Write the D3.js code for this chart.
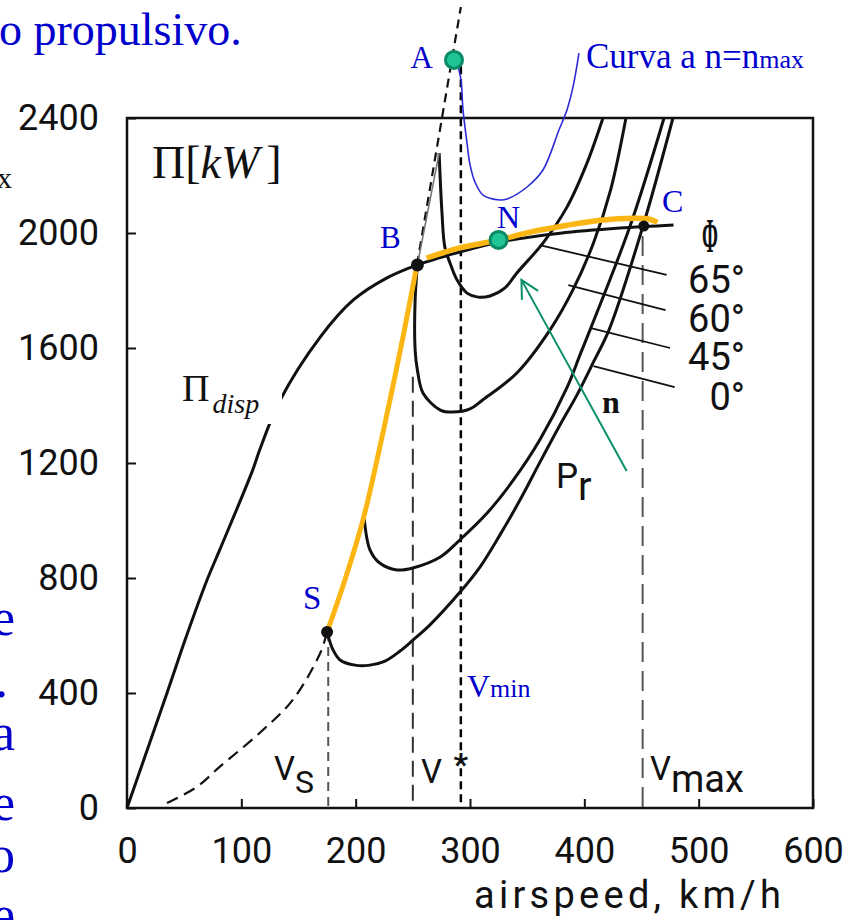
<!DOCTYPE html>
<html>
<head>
<meta charset="utf-8">
<script src="https://cdn.jsdelivr.net/npm/d3@7"></script>
<style>
  body { margin: 0; background: #fff; }
  svg { display: block; }
</style>
</head>
<body>
<div id="chart"></div>
<script>
// Axis ticks
var xTicks = [0, 100, 200, 300, 400, 500, 600];
var yTicks = [0, 400, 800, 1200, 1600, 2000, 2400];

// Available power curve (Pi_disp), km/h vs kW
var dispV = [0, 35, 52, 70, 81, 110, 116, 134, 169, 198, 227, 254, 291, 326, 379, 431, 478];
var dispP = [0, 400, 598, 793, 897, 1176, 1245, 1419, 1638, 1767, 1843, 1889, 1934, 1969, 1999, 2017, 2028];

// Required power curves for bank angle 0, 45, 60, 65 deg
var bankLabels = ['65°', '60°', '45°', '0°'];
var pr0V = [175, 180.2, 186.3, 199.4, 212.5, 225.7, 238.8, 250.1, 265, 291.3, 308.7, 326.2, 343.7, 361.2, 378.7, 393.6, 407.6, 421.6, 451.3, 477.5];
var pr0P = [612, 550, 515, 497, 497, 511, 546, 584, 637, 751, 838, 950, 1071, 1203, 1332, 1437, 1548, 1663, 2024, 2400];
var pr45V = [207.5, 212.6, 221, 236, 250, 274, 291, 315, 338, 361, 385, 396.2, 405, 440, 469.7];
var pr45P = [1005, 897, 852, 828, 835, 873, 932, 1026, 1141, 1280, 1464, 1576, 1663, 2024, 2400];
var pr60V = [254, 252, 252, 254, 259, 274, 285, 300, 311, 341, 370, 390, 408, 423, 436.4];
var pr60P = [1889, 1767, 1593, 1523, 1443, 1384, 1377, 1388, 1419, 1513, 1663, 1802, 1965, 2150, 2400];
var pr65V = [254, 273, 275.5, 278, 282.5, 288.6, 297.4, 307, 317.5, 330.6, 341, 363.8, 384.8, 402.3, 416.3];
var pr65P = [1889, 2278, 2070, 1951, 1896, 1837, 1791, 1777, 1781, 1809, 1861, 1965, 2090, 2243, 2400];

// Stall limit line (origin -> S -> B -> up)
var stallV = [35, 61, 81, 116, 145, 169, 175, 190.6, 206.4, 217.7, 230, 241.4, 253.6, 292];
var stallP = [17, 73, 143, 261, 376, 539, 612, 793, 1002, 1193, 1419, 1638, 1889, 2786];

// Maximum power branch B -> C
var maxV = [262, 291, 324.5, 352.5, 385, 414, 442.6, 457, 464];
var maxP = [1913, 1948, 1975, 2003, 2027, 2044, 2051, 2048, 2037];

// Characteristic speeds: VS, V*, Vmin, Vmax
var speedValues = [176, 250, 292, 451];
var speedTops = [612, 1500, 2580, 1990];

// Named points
var pointNames = ['A', 'B', 'C', 'N', 'S'];
var pointV = [286, 254, 452, 325, 175];
var pointP = [2602, 1889, 2024, 1976, 612];

// Leader lines from the curves to the bank angle labels
var leaderV0 = [361, 386, 405, 408];
var leaderP0 = [1958, 1819, 1670, 1537];
var leaderV1 = [472, 471, 475, 479];
var leaderP1 = [1854, 1732, 1600, 1464];

// Callout "Curva a n=nmax"
var calloutV = [288.6, 292.1, 293.9, 297.4, 300, 304.4, 311.4, 326.2, 332.3, 349.9, 363.8, 377.8, 384.8, 390.1, 395.3];
var calloutP = [2595, 2532, 2428, 2313, 2238, 2177, 2132, 2115, 2118, 2160, 2219, 2358, 2428, 2508, 2626];

// Arrow "n"
var arrowV = [437, 345];
var arrowP = [1172, 1837];

// Create SVG Element
var width = 852;
var height = 923;
var svg = d3.select('#chart')
    .append('svg')
    .attr('width', width)
    .attr('height', height);

// Create Scale
var x = d3.scaleLinear().domain([0, 600]).range([127, 813]);
var y = d3.scaleLinear().domain([0, 2400]).range([808, 118]);

function pairs(vs, ps) {
  return vs.map(function(v, i) { return [v, ps[i]]; });
}

var smooth = d3.line()
    .x(function(d) { return x(d[0]); })
    .y(function(d) { return y(d[1]); })
    .curve(d3.curveCatmullRom.alpha(0.5));

var straight = d3.line()
    .x(function(d) { return x(d[0]); })
    .y(function(d) { return y(d[1]); });

var ink = '#111';
var blue = '#0000cc';
var scanFont = 'Roboto, sans-serif';
var serif = '"Liberation Serif", "Times New Roman", serif';

// Frame and axes
svg.append('rect')
    .attr('x', x(0))
    .attr('y', y(2400))
    .attr('width', x(600) - x(0))
    .attr('height', y(0) - y(2400))
    .attr('fill', 'none')
    .attr('stroke', ink)
    .attr('stroke-width', 2.5);

var yAxis = d3.axisLeft(y)
    .tickValues(yTicks)
    .tickFormat(d3.format('d'))
    .tickSizeInner(-9)
    .tickSizeOuter(0)
    .tickPadding(28);

var xAxis = d3.axisBottom(x)
    .tickValues(xTicks)
    .tickFormat(d3.format('d'))
    .tickSizeInner(-9)
    .tickSizeOuter(0)
    .tickPadding(29);

var gy = svg.append('g')
    .attr('transform', 'translate(' + x(0) + ',0)')
    .call(yAxis);
var gx = svg.append('g')
    .attr('transform', 'translate(0,' + y(0) + ')')
    .call(xAxis);

[gx, gy].forEach(function(g) {
  g.select('.domain').remove();
  g.selectAll('line').attr('stroke', ink).attr('stroke-width', 2);
  g.selectAll('text')
      .attr('fill', ink)
      .style('font-family', scanFont)
      .style('font-size', '36px');
});

svg.append('text')
    .text('airspeed, km/h')
    .attr('x', 474)
    .attr('y', 908)
    .attr('textLength', 307)
    .attr('lengthAdjust', 'spacing')
    .attr('fill', ink)
    .style('font-family', scanFont)
    .style('font-size', '38px');

// Vertical guide lines
var guideDash = ['9,6', '16,8', '8,5', '20,9'];
var guideColor = ['#555', '#333', '#000', '#555'];
var guideWidth = [2, 2, 2.5, 2];
svg.selectAll('.guide')
    .data(speedValues)
    .enter()
    .append('line')
    .attr('class', 'guide')
    .attr('x1', function(d) { return x(d); })
    .attr('x2', function(d) { return x(d); })
    .attr('y1', function(d, i) { return y(speedTops[i]); })
    .attr('y2', y(0))
    .attr('stroke', function(d, i) { return guideColor[i]; })
    .attr('stroke-width', function(d, i) { return guideWidth[i]; })
    .attr('stroke-dasharray', function(d, i) { return guideDash[i]; });

// Stall line
var stall = pairs(stallV, stallP);
svg.append('path')
    .attr('d', smooth(stall.slice(0, 7)))
    .attr('fill', 'none')
    .attr('stroke', ink)
    .attr('stroke-width', 2.2)
    .attr('stroke-dasharray', '12,7');
svg.append('path')
    .attr('d', straight(stall.slice(12)))
    .attr('fill', 'none')
    .attr('stroke', ink)
    .attr('stroke-width', 2.2)
    .attr('stroke-dasharray', '9,6');
svg.append('path')
    .attr('d', smooth(stall.slice(6, 13)))
    .attr('fill', 'none')
    .attr('stroke', ink)
    .attr('stroke-width', 3);

// Available power
svg.append('path')
    .attr('d', smooth(pairs(dispV, dispP)))
    .attr('fill', 'none')
    .attr('stroke', ink)
    .attr('stroke-width', 3);

// Required power curves
var pr65 = pairs(pr65V, pr65P);
var curves = [pairs(pr0V, pr0P), pairs(pr45V, pr45P), pairs(pr60V, pr60P), pr65.slice(1)];
svg.selectAll('.pr')
    .data(curves)
    .enter()
    .append('path')
    .attr('class', 'pr')
    .attr('d', function(d) { return smooth(d); })
    .attr('fill', 'none')
    .attr('stroke', ink)
    .attr('stroke-width', 3);
svg.append('path')
    .attr('d', straight(pr65.slice(0, 2)))
    .attr('fill', 'none')
    .attr('stroke', '#777')
    .attr('stroke-width', 1.6);

// Leader lines to the bank angle labels
svg.selectAll('.leader')
    .data(leaderV0)
    .enter()
    .append('line')
    .attr('class', 'leader')
    .attr('x1', function(d) { return x(d); })
    .attr('y1', function(d, i) { return y(leaderP0[i]); })
    .attr('x2', function(d, i) { return x(leaderV1[i]); })
    .attr('y2', function(d, i) { return y(leaderP1[i]); })
    .attr('stroke', ink)
    .attr('stroke-width', 1.8);

svg.selectAll('.bank')
    .data(bankLabels)
    .enter()
    .append('text')
    .attr('class', 'bank')
    .text(function(d) { return d; })
    .attr('x', 745)
    .attr('y', function(d, i) { return [293, 332, 370, 410][i]; })
    .attr('text-anchor', 'end')
    .attr('fill', ink)
    .style('font-family', scanFont)
    .style('font-size', '38px');

svg.append('text')
    .text('Φ')
    .attr('transform', 'translate(710,252) scale(0.4,1)')
    .attr('text-anchor', 'middle')
    .attr('fill', ink)
    .style('font-family', serif)
    .style('font-weight', 'bold')
    .style('font-size', '48px');

// Yellow operating envelope
svg.append('path')
    .attr('d', smooth(stall.slice(6, 13)))
    .attr('fill', 'none')
    .attr('stroke', '#fbb614')
    .attr('stroke-width', 5);
svg.append('path')
    .attr('d', smooth(pairs(maxV, maxP)))
    .attr('fill', 'none')
    .attr('stroke', '#fbb614')
    .attr('stroke-width', 5.5);

// Callout curve
svg.append('path')
    .attr('d', smooth(pairs(calloutV, calloutP)))
    .attr('fill', 'none')
    .attr('stroke', '#2b2bd6')
    .attr('stroke-width', 1.6);

// Arrow n
var ax0 = x(arrowV[0]), ay0 = y(arrowP[0]);
var ax1 = x(arrowV[1]), ay1 = y(arrowP[1]);
var ang = Math.atan2(ay0 - ay1, ax0 - ax1);
var arm = 20;
svg.append('line')
    .attr('x1', ax0).attr('y1', ay0)
    .attr('x2', ax1).attr('y2', ay1)
    .attr('stroke', '#0b8f6b')
    .attr('stroke-width', 2);
svg.append('path')
    .attr('d', 'M' + (ax1 + arm * Math.cos(ang - 0.48)) + ',' + (ay1 + arm * Math.sin(ang - 0.48)) +
        'L' + ax1 + ',' + ay1 +
        'L' + (ax1 + arm * Math.cos(ang + 0.48)) + ',' + (ay1 + arm * Math.sin(ang + 0.48)))
    .attr('fill', 'none')
    .attr('stroke', '#0b8f6b')
    .attr('stroke-width', 2);

// Points
var dotR = [8.5, 6.5, 5.5, 8.5, 6];
var dotFill = ['#21c497', ink, ink, '#21c497', ink];
svg.selectAll('.pt')
    .data(pointNames)
    .enter()
    .append('circle')
    .attr('class', 'pt')
    .attr('cx', function(d, i) { return x(pointV[i]); })
    .attr('cy', function(d, i) { return y(pointP[i]); })
    .attr('r', function(d, i) { return dotR[i]; })
    .attr('fill', function(d, i) { return dotFill[i]; })
    .attr('stroke', function(d, i) { return dotFill[i] === ink ? 'none' : '#0a8a64'; })
    .attr('stroke-width', 3);

// Blue point labels
var ptLabelX = [433, 380, 662, 497, 303];
var ptLabelY = [68, 248, 212, 228, 609];
var ptLabelSize = [31, 31, 32, 32, 33];
svg.selectAll('.ptl')
    .data(pointNames)
    .enter()
    .append('text')
    .attr('class', 'ptl')
    .text(function(d) { return d; })
    .attr('x', function(d, i) { return ptLabelX[i]; })
    .attr('y', function(d, i) { return ptLabelY[i]; })
    .attr('text-anchor', function(d, i) { return i === 0 ? 'end' : 'start'; })
    .attr('fill', blue)
    .style('font-family', serif)
    .style('font-size', function(d, i) { return ptLabelSize[i] + 'px'; });

// Speed labels
function scanLabel(px, py, main, sub, subSize, subDy) {
  var t = svg.append('text')
      .attr('x', px)
      .attr('y', py)
      .attr('fill', ink)
      .style('font-family', scanFont)
      .style('font-size', '33px');
  t.append('tspan').text(main);
  if (sub) {
    t.append('tspan').text(sub).attr('dy', subDy).style('font-size', subSize + 'px');
  }
  return t;
}
scanLabel(274, 780, 'V', 'S', 32, 13);
scanLabel(421, 783, 'V');
scanLabel(650, 780, 'V', 'max', 38, 12);
scanLabel(556, 488, 'P', 'r', 40, 12).style('font-size', '35px');

svg.append('text')
    .text('*')
    .attr('x', x(speedValues[2]))
    .attr('y', 775)
    .attr('text-anchor', 'middle')
    .attr('fill', ink)
    .style('font-family', scanFont)
    .style('font-weight', 'bold')
    .style('font-size', '32px');

var vmin = svg.append('text')
    .attr('x', 467)
    .attr('y', 697)
    .attr('fill', blue)
    .style('font-family', serif)
    .style('font-size', '32px');
vmin.append('tspan').text('V');
vmin.append('tspan').text('min').style('font-size', '26px');

// Curve names
var piKw = svg.append('text')
    .attr('x', 152)
    .attr('y', 178)
    .attr('fill', ink)
    .style('font-family', serif)
    .style('font-size', '46px');
piKw.append('tspan').text('Π[');
piKw.append('tspan').text('kW').style('font-style', 'italic');
piKw.append('tspan').text(']').attr('dx', 7);

svg.append('rect')
    .attr('x', 180)
    .attr('y', 372)
    .attr('width', 102)
    .attr('height', 52)
    .attr('fill', '#fff');
var piDisp = svg.append('text')
    .attr('x', 182)
    .attr('y', 401)
    .attr('fill', ink)
    .style('font-family', serif)
    .style('font-size', '38px');
piDisp.append('tspan').text('Π');
piDisp.append('tspan').text('disp')
    .attr('dx', 3)
    .attr('dy', 12)
    .style('font-style', 'italic')
    .style('font-size', '28px');

svg.append('text')
    .text('n')
    .attr('x', 602)
    .attr('y', 413)
    .attr('fill', ink)
    .style('font-family', serif)
    .style('font-weight', 'bold')
    .style('font-size', '32px');

var curva = svg.append('text')
    .attr('x', 586)
    .attr('y', 68)
    .attr('fill', blue)
    .style('font-family', serif)
    .style('font-size', '35px');
curva.append('tspan').text('Curva a n=n');
curva.append('tspan').text('max').style('font-size', '26px');

// Slide text around the figure
svg.append('text')
    .text('o propulsivo.')
    .attr('x', -1)
    .attr('y', 45)
    .attr('fill', blue)
    .style('font-family', serif)
    .style('font-size', '46px');

svg.append('text')
    .text('x')
    .attr('x', 12)
    .attr('y', 188)
    .attr('text-anchor', 'end')
    .attr('fill', ink)
    .style('font-family', serif)
    .style('font-size', '30px');

var edgeChars = ['e', '.', 'a', 'e', 'o', 'e'];
var edgeY = [635, 697, 750, 820, 872, 932];
svg.selectAll('.edge')
    .data(edgeChars)
    .enter()
    .append('text')
    .attr('class', 'edge')
    .text(function(d) { return d; })
    .attr('x', function(d) { return d === '.' ? 8 : 15; })
    .attr('y', function(d, i) { return edgeY[i]; })
    .attr('text-anchor', 'end')
    .attr('fill', blue)
    .style('font-family', serif)
    .style('font-size', '52px');
</script>
</body>
</html>
